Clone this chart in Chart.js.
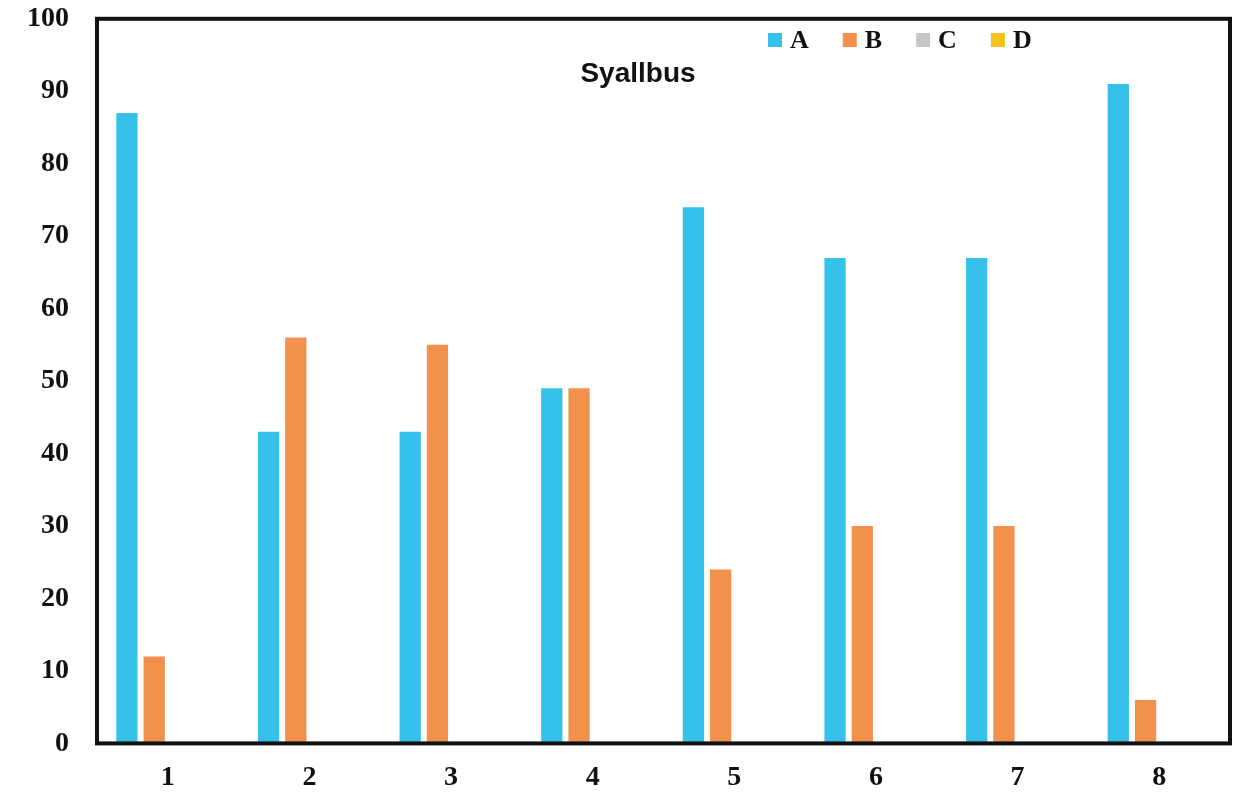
<!DOCTYPE html>
<html>
<head>
<meta charset="utf-8">
<script src="https://cdn.jsdelivr.net/npm/chart.js@4/dist/chart.umd.min.js"></script>
<style>
  html, body { margin: 0; padding: 0; background: #fff; }
  #frame { width: 1236px; height: 796px; overflow: hidden; position: relative; }
  #wrap { position: absolute; left: 0; top: -26px; width: 1236px; height: 822px; }
</style>
</head>
<body>
<div id="frame"><div id="wrap"><canvas id="chart_syallbus"></canvas></div></div>
<script>
var title_text = "Syallbus";
var categories = ["1", "2", "3", "4", "5", "6", "7", "8"];
var series_names = ["A", "B", "C", "D"];
var series_a = [87, 43, 43, 49, 74, 67, 67, 91];
var series_b = [12, 56, 55, 49, 24, 30, 30, 6];
var series_c = [0, 0, 0, 0, 0, 0, 0, 0];
var series_d = [0, 0, 0, 0, 0, 0, 0, 0];
var y_ticks = [0, 10, 20, 30, 40, 50, 60, 70, 80, 90, 100];

var colors = ["#35c1ea", "#f2914c", "#c4c6c8", "#f4c21c"];
var shift = 26; // canvas is pulled up by this much so the box top meets the 100 label

// frame, title and legend sit inside the plot box, so draw them by hand
var overlay = {
    id: 'overlay',
    afterDraw: function(chart) {
        var ctx = chart.ctx;
        var a = chart.chartArea;
        ctx.save();
        ctx.strokeStyle = '#111';
        ctx.lineWidth = 4;
        ctx.strokeRect(a.left, a.top, a.right - a.left, a.bottom - a.top);

        ctx.fillStyle = '#111';
        ctx.font = 'bold 28px "Liberation Sans", Arial, sans-serif';
        ctx.textAlign = 'center';
        ctx.textBaseline = 'middle';
        ctx.fillText(title_text, 638, 74 + shift);

        var x = 768;
        ctx.font = 'bold 26px "Liberation Serif", "Times New Roman", serif';
        ctx.textAlign = 'left';
        for (var i = 0; i < series_names.length; i++) {
            ctx.fillStyle = colors[i];
            ctx.fillRect(x, 33 + shift, 14, 14);
            ctx.fillStyle = '#111';
            ctx.fillText(series_names[i], x + 22, 41 + shift);
            x += 22 + ctx.measureText(series_names[i]).width + 34;
        }
        ctx.restore();
    }
};

var series_data = [series_a, series_b, series_c, series_d];
var datasets = series_names.map(function(name, i) {
    return {
        label: name,
        data: series_data[i],
        backgroundColor: colors[i],
        borderWidth: 0,
        categoryPercentage: 0.77,
        barPercentage: 0.78
    };
});

var tick_font = { family: '"Liberation Serif", "Times New Roman", serif', size: 28, weight: 'bold' };

new Chart(document.getElementById("chart_syallbus"), {
    type: 'bar',
    data: { labels: categories, datasets: datasets },
    options: {
        responsive: true,
        maintainAspectRatio: false,
        animation: false,
        layout: { padding: { top: 0, right: 6, left: -1, bottom: -17 } },
        plugins: {
            legend: { display: false },
            title: { display: false },
            tooltip: { enabled: false }
        },
        scales: {
            x: {
                grid: { display: false, drawTicks: false },
                border: { display: false },
                ticks: { color: '#111', font: tick_font, padding: 18 }
            },
            y: {
                min: 0,
                max: 100,
                afterBuildTicks: function(axis) {
                    axis.ticks = y_ticks.map(function(v) { return { value: v }; });
                },
                grid: { display: false, drawTicks: false },
                border: { display: false },
                ticks: { color: '#111', font: tick_font, padding: 28 }
            }
        }
    },
    plugins: [overlay]
});
</script>
</body>
</html>
